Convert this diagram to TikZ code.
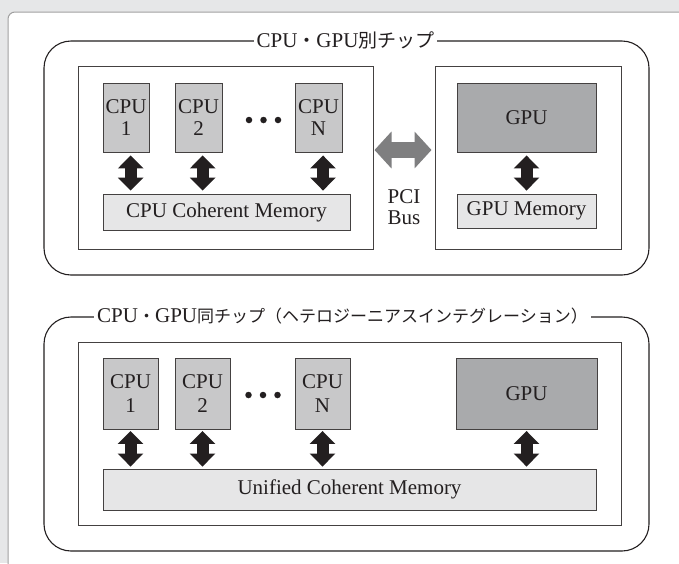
\documentclass[tikz,border=0pt]{standalone}
\usepackage{fontspec}
\setmainfont{Liberation Serif}
\newfontfamily\cjk{Noto Sans CJK JP}
\usetikzlibrary{arrows.meta}
\definecolor{bgc}{HTML}{E6E7E8}
\definecolor{panelc}{HTML}{A0A0A0}
\definecolor{inkc}{HTML}{231F20}
\definecolor{cpuc}{HTML}{C8C8C9}
\definecolor{gpuc}{HTML}{A9AAAC}
\definecolor{memc}{HTML}{E6E6E7}
\definecolor{pcic}{HTML}{7F7F80}
\tikzset{
  roundbox/.style={draw=inkc, line width=1.1pt, rounded corners=27pt, fill=white},
  inbox/.style={draw=inkc!85, line width=1pt, fill=white},
  unitbox/.style={draw=inkc!85, line width=0.9pt, align=center, text=inkc, inner sep=0pt,
    font=\fontsize{21}{21.5}\selectfont},
  cpubox/.style={unitbox, fill=cpuc},
  gpubox/.style={unitbox, fill=gpuc},
  membox/.style={unitbox, fill=memc},
  dotnode/.style={circle, fill=inkc, inner sep=0pt, minimum size=6.5pt},
  dblarrow/.style={draw=inkc, line width=12pt,
    {Triangle[length=13pt,width=25pt]}-{Triangle[length=13pt,width=25pt]}},
  pciarrow/.style={draw=pcic, line width=16pt,
    {Triangle[length=17pt,width=36pt]}-{Triangle[length=17pt,width=36pt]}},
  titlenode/.style={fill=white, inner sep=3pt, text=inkc, font=\fontsize{21}{22}\selectfont}
}
\begin{document}
\begin{tikzpicture}[x=1pt,y=-1pt]
\useasboundingbox (0,0) rectangle (679,563);
\fill[bgc] (0,0) rectangle (679,563);
\begin{scope}
\clip (0,0) rectangle (679,563);
\draw[panelc, line width=1pt, fill=white, rounded corners=7pt] (8,12) rectangle (700,600);
\end{scope}

% ---------- top: separate chips ----------
\node[roundbox, minimum width=605, minimum height=234] (topbox) at (346.5,158) {};
\node[titlenode] (toptitle) at ([xshift=-1pt]topbox.north) {CPU{\cjk\fontsize{19}{20}\selectfont ・}GPU{\cjk\fontsize{19}{20}\selectfont 別チップ}};

\node[inbox, minimum width=295, minimum height=183] (leftin) at (225.5,157.5) {};
\node[inbox, minimum width=186, minimum height=183] (rightin) at (528,157.5) {};

\node[cpubox, minimum width=46, minimum height=69] (cpu1) at (126,117.5) {CPU\\1};
\node[cpubox, minimum width=47, minimum height=69] (cpu2) at (198.5,117.5) {CPU\\2};
\node[cpubox, minimum width=47, minimum height=69] (cpun) at (318.5,117.5) {CPU\\N};
\node[dotnode] (d1) at (249,120) {};
\node[dotnode] (d2) at (263.5,120) {};
\node[dotnode] (d3) at (278,120) {};
\node[membox, minimum width=247, minimum height=36] (mem) at (226.5,212) {CPU Coherent Memory};

\node[gpubox, minimum width=139, minimum height=69] (gpu) at (526.5,117.5) {GPU};
\node[membox, minimum width=139, minimum height=34] (gmem) at (526.5,211) {GPU Memory};

\node[align=center, text=inkc, font=\fontsize{21}{21.5}\selectfont] (pci) at (404,207) {PCI\\Bus};

\draw[dblarrow, shorten <=3pt, shorten >=3pt] ([xshift=4.7pt]cpu1.south) -- ([xshift=4.7pt]cpu1.south |- mem.north);
\draw[dblarrow, shorten <=3pt, shorten >=3pt] ([xshift=4.2pt]cpu2.south) -- ([xshift=4.2pt]cpu2.south |- mem.north);
\draw[dblarrow, shorten <=3pt, shorten >=3pt] ([xshift=4.5pt]cpun.south) -- ([xshift=4.5pt]cpun.south |- mem.north);
\draw[dblarrow, shorten <=3pt, shorten >=3pt] (gpu.south) -- (gmem.north);
\draw[pciarrow, shorten <=1pt, shorten >=3pt] (leftin.east |- 0,150) -- (rightin.west |- 0,150);

% ---------- bottom: same chip ----------
\node[roundbox, minimum width=605, minimum height=234] (botbox) at (346.5,434) {};
\node[titlenode] (bottitle) at ([xshift=-4pt]botbox.north) {CPU{\cjk\fontsize{17}{20}\selectfont ・}GPU{\cjk\fontsize{17}{20}\selectfont 同チップ（ヘテロジーニアスインテグレーション）}};

\node[inbox, minimum width=543, minimum height=183] (botin) at (349.5,433.5) {};

\node[cpubox, minimum width=55, minimum height=71, font=\fontsize{21}{24}\selectfont] (bcpu1) at (130.5,393.5) {CPU\\1};
\node[cpubox, minimum width=55, minimum height=71, font=\fontsize{21}{24}\selectfont] (bcpu2) at (202.5,393.5) {CPU\\2};
\node[cpubox, minimum width=55, minimum height=71, font=\fontsize{21}{24}\selectfont] (bcpun) at (322.5,393.5) {CPU\\N};
\node[dotnode] (bd1) at (248.5,395) {};
\node[dotnode] (bd2) at (263,395) {};
\node[dotnode] (bd3) at (277.5,395) {};
\node[gpubox, minimum width=141, minimum height=71] (bgpu) at (526.5,393.5) {GPU};
\node[membox, minimum width=493, minimum height=41] (umem) at (349.5,489.5) {Unified Coherent Memory};

\draw[dblarrow, shorten <=1.5pt, shorten >=2pt] (bcpu1.south) -- (bcpu1.south |- umem.north);
\draw[dblarrow, shorten <=1.5pt, shorten >=2pt] (bcpu2.south) -- (bcpu2.south |- umem.north);
\draw[dblarrow, shorten <=1.5pt, shorten >=2pt] (bcpun.south) -- (bcpun.south |- umem.north);
\draw[dblarrow, shorten <=1.5pt, shorten >=2pt] (bgpu.south) -- (bgpu.south |- umem.north);
\end{tikzpicture}
\end{document}
